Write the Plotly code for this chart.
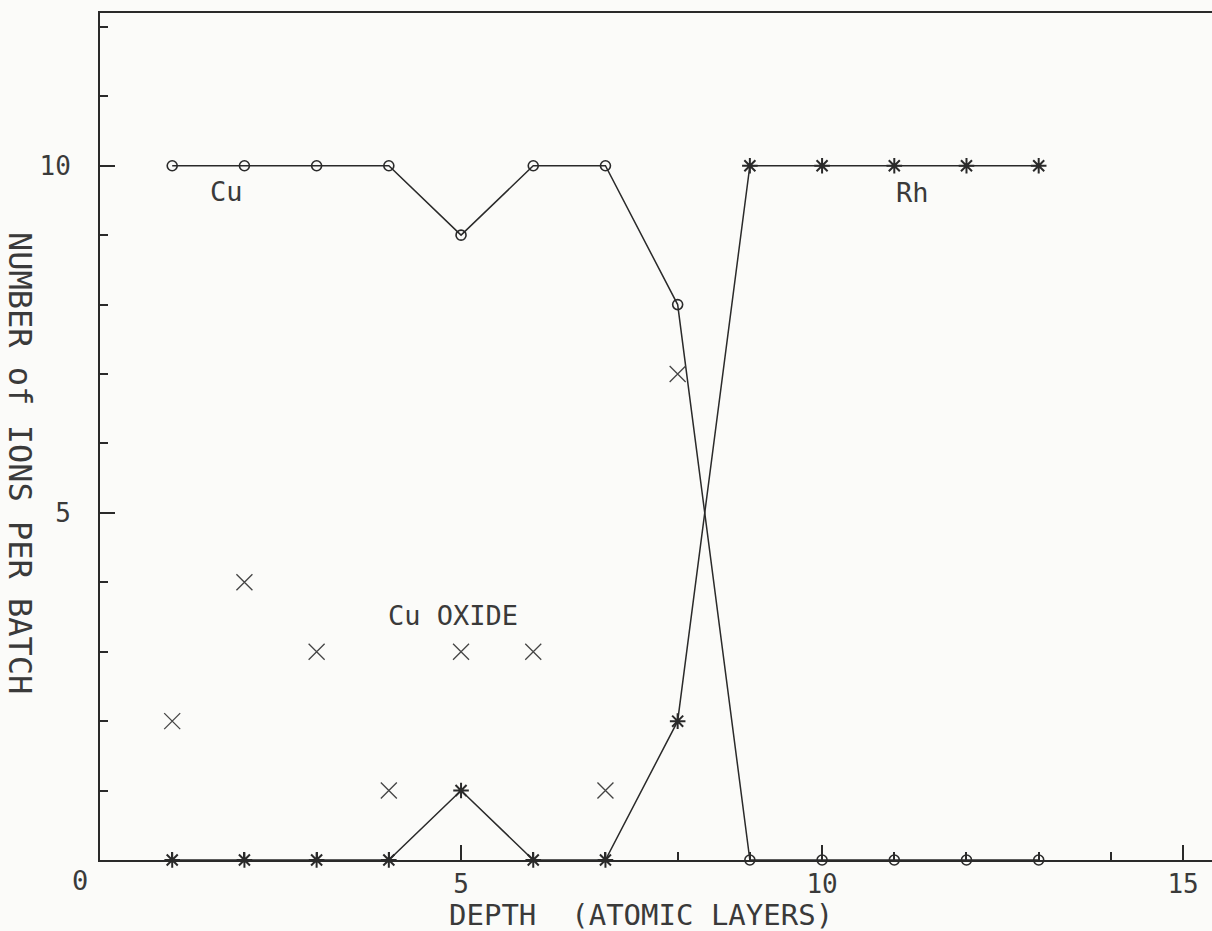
import plotly.graph_objects as go

depth = [1, 2, 3, 4, 5, 6, 7, 8, 9, 10, 11, 12, 13]
cu = [10, 10, 10, 10, 9, 10, 10, 8, 0, 0, 0, 0, 0]
rh = [0, 0, 0, 0, 1, 0, 0, 2, 10, 10, 10, 10, 10]
oxide_depth = [1, 2, 3, 4, 5, 6, 7, 8]
cu_oxide = [2, 4, 3, 1, 3, 3, 1, 7]

x_tick_vals = [5, 10, 15]
x_tick_text = ["5", "10", "15"]
y_tick_vals = [5, 10]
y_tick_text = ["5", "10"]

FONT = "DejaVu Sans Mono"
INK = "#2a2a2a"
TXT = "#3a3a3a"

fig = go.Figure()
fig.add_trace(go.Scatter(
    x=depth, y=cu, mode="lines+markers", name="Cu",
    line=dict(color=INK, width=1.5),
    marker=dict(symbol="circle-open", size=10, color=INK, line=dict(width=1.6)),
    cliponaxis=False,
))
fig.add_trace(go.Scatter(
    x=depth, y=rh, mode="lines+markers", name="Rh",
    line=dict(color=INK, width=1.5),
    marker=dict(symbol="asterisk-open", size=13, color=INK, line=dict(width=2)),
    cliponaxis=False,
))
fig.add_trace(go.Scatter(
    x=oxide_depth, y=cu_oxide, mode="markers", name="Cu OXIDE",
    marker=dict(symbol="x-thin-open", size=16, color="#444", line=dict(width=1.3)),
    cliponaxis=False,
))

fig.update_layout(
    width=1212, height=931,
    margin=dict(l=100, r=0, t=13, b=71),
    paper_bgcolor="#fbfbf9", plot_bgcolor="#fbfbf9",
    showlegend=False,
    font=dict(family=FONT, color=TXT, size=26),
)
fig.update_xaxes(
    range=[0, 15.4], showgrid=False, zeroline=False,
    showline=True, linecolor=INK, linewidth=2, mirror=True,
    tickmode="array", tickvals=x_tick_vals, ticktext=x_tick_text,
    ticks="inside", ticklen=15, tickwidth=1.5, tickcolor=INK,
    minor=dict(dtick=1, tick0=0, ticks="inside", ticklen=8, tickwidth=1.5, tickcolor=INK),
    tickfont=dict(family=FONT, size=26, color=TXT),
    ticklabelstandoff=0,
)
fig.update_yaxes(
    range=[0, 12.2], showgrid=False, zeroline=False,
    showline=True, linecolor=INK, linewidth=2, mirror=False,
    tickmode="array", tickvals=y_tick_vals, ticktext=y_tick_text,
    ticks="inside", ticklen=15, tickwidth=1.5, tickcolor=INK,
    minor=dict(dtick=1, tick0=0, ticks="inside", ticklen=8, tickwidth=1.5, tickcolor=INK),
    tickfont=dict(family=FONT, size=26, color=TXT),
    ticklabelstandoff=22,
)

ann = dict(showarrow=False, xanchor="center", yanchor="middle",
           font=dict(family=FONT, size=27, color=TXT))
fig.add_annotation(x=1.745, y=9.63, xref="x", yref="y", text="Cu", **ann)
fig.add_annotation(x=11.25, y=9.62, xref="x", yref="y", text="Rh", **ann)
fig.add_annotation(x=4.89, y=3.52, xref="x", yref="y", text="Cu OXIDE", **ann)
fig.add_annotation(x=-20 / 1112, y=-20 / 847, xref="paper", yref="paper", text="0", **ann)

fig.add_annotation(x=(641 - 100) / 1112, y=-(915 - 860) / 847, xref="paper", yref="paper",
                   text="DEPTH  (ATOMIC LAYERS)", showarrow=False,
                   xanchor="center", yanchor="middle",
                   font=dict(family=FONT, size=29, color=TXT))
fig.add_annotation(x=-(100 - 20) / 1112, y=(860 - 463) / 847, xref="paper", yref="paper",
                   text="NUMBER of IONS PER BATCH", textangle=90, showarrow=False,
                   xanchor="center", yanchor="middle",
                   font=dict(family=FONT, size=32, color=TXT))

fig.write_html("out.html")
